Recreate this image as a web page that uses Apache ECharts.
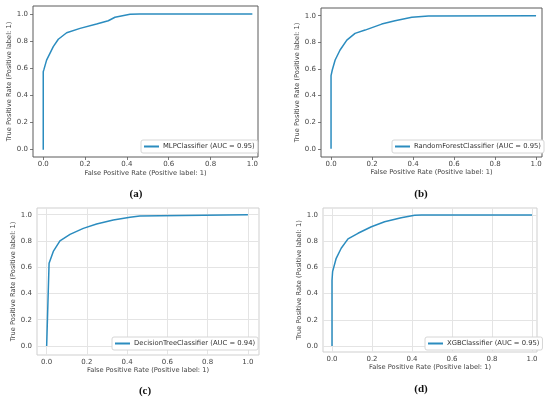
<!DOCTYPE html>
<html>
<head>
<meta charset="utf-8">
<script src="https://cdn.jsdelivr.net/npm/echarts@6/dist/echarts.min.js"></script>
<style>html,body{margin:0;padding:0;background:#fff}#c{width:550px;height:397px}</style>
</head>
<body>
<div id="c"></div>
<script>
// ---- data ----
const tickValues = [0, 0.2, 0.4, 0.6, 0.8, 1.0];
const names = ['MLPClassifier (AUC = 0.95)', 'RandomForestClassifier (AUC = 0.95)', 'DecisionTreeClassifier (AUC = 0.94)', 'XGBClassifier (AUC = 0.95)'];
const captions = ['(a)', '(b)', '(c)', '(d)'];
const fprA = [0, 0, 0.003, 0.016, 0.048, 0.072, 0.112, 0.176, 0.255, 0.311, 0.343, 0.415, 0.46, 1];
const tprA = [0, 0.575, 0.59, 0.66, 0.76, 0.814, 0.862, 0.894, 0.926, 0.95, 0.976, 0.998, 1, 1];
const fprB = [0, 0, 0.006, 0.02, 0.044, 0.077, 0.117, 0.166, 0.247, 0.312, 0.394, 0.475, 1];
const tprB = [0, 0.55, 0.592, 0.667, 0.742, 0.817, 0.867, 0.892, 0.937, 0.962, 0.988, 0.998, 1];
const fprC = [0, 0.012, 0.033, 0.066, 0.116, 0.182, 0.248, 0.331, 0.414, 0.463, 0.562, 1];
const tprC = [0, 0.63, 0.72, 0.80, 0.85, 0.896, 0.929, 0.96, 0.98, 0.99, 0.992, 1];
const fprD = [0, 0, 0.003, 0.021, 0.046, 0.08, 0.13, 0.197, 0.263, 0.346, 0.413, 0.447, 1];
const tprD = [0, 0.5, 0.567, 0.669, 0.746, 0.817, 0.86, 0.91, 0.948, 0.979, 0.997, 1, 1];
const xLabel = 'False Positive Rate (Positive label: 1)';
const yLabel = 'True Positive Rate (Positive label: 1)';

const fprs = [fprA, fprB, fprC, fprD];
const tprs = [tprA, tprB, tprC, tprD];

// ---- layout ----
const FONT = 'DejaVu Sans';
const LINE = '#2b8cbf';
const panels = [
  {L: 33, R: 258, T: 6, B: 157, xr: [-0.049, 1.027], yr: [-0.054, 1.059], grid: false, xGap: 13, yGap: 13.5, legend: {left: 141, top: 140}, cap: [136, 194]},
  {L: 321, R: 542, T: 8, B: 157, xr: [-0.049, 1.029], yr: [-0.062, 1.058], grid: false, xGap: 12, yGap: 14, legend: {left: 392, top: 140}, cap: [421, 194]},
  {L: 37, R: 259, T: 208, B: 355, xr: [-0.048, 1.055], yr: [-0.069, 1.051], grid: true, xGap: 11, yGap: 12.5, legend: {left: 112, top: 337}, cap: [145, 391]},
  {L: 323, R: 537, T: 208, B: 352, xr: [-0.045, 1.025], yr: [-0.046, 1.053], grid: true, xGap: 12, yGap: 16, legend: {left: 425, top: 337}, cap: [421, 389]}
];

const grids = [], xAxes = [], yAxes = [], series = [], legends = [], graphics = [];
panels.forEach((p, i) => {
  grids.push({left: p.L, top: p.T, width: p.R - p.L, height: p.B - p.T, show: true,
    borderColor: p.grid ? '#cfcfcf' : '#5a5a5a', borderWidth: 1, backgroundColor: '#fff', containLabel: false});
  const common = (range, gap, name, isX) => ({
    type: 'value', gridIndex: i, min: range[0], max: range[1],
    position: isX ? 'bottom' : 'left',
    name: name, nameLocation: 'middle', nameGap: gap,
    nameTextStyle: {fontFamily: FONT, fontSize: 6.7, color: '#444'},
    axisLine: {show: false, onZero: false},
    axisTick: {show: !p.grid, length: 3, inside: false, lineStyle: {color: '#5a5a5a', width: 0.8}, customValues: tickValues},
    axisLabel: {show: true, customValues: tickValues, fontFamily: FONT, fontSize: 7, color: '#444', margin: isX ? 4 : 5,
      formatter: v => v.toFixed(1)},
    splitLine: {show: p.grid, lineStyle: {color: '#e4e4e4', width: 1}}
  });
  xAxes.push(common(p.xr, p.xGap, xLabel, true));
  yAxes.push(common(p.yr, p.yGap, yLabel, false));
  series.push({
    type: 'line', name: names[i], xAxisIndex: i, yAxisIndex: i,
    data: fprs[i].map((x, k) => [x, tprs[i][k]]),
    showSymbol: false, symbol: 'none', smooth: false,
    lineStyle: {color: LINE, width: 1.5}, itemStyle: {color: LINE}, z: 3
  });
  legends.push({
    data: [names[i]], left: p.legend.left, top: p.legend.top, orient: 'horizontal',
    icon: 'rect', itemWidth: 15, itemHeight: 2, itemGap: 4,
    padding: [3, 3, 3, 3], borderColor: '#d6d6d6', borderWidth: 1, borderRadius: 2, backgroundColor: '#fff',
    textStyle: {fontFamily: FONT, fontSize: 6.8, color: '#333', padding: [0, 0, 0, -1]},
    selectedMode: false
  });
  graphics.push({type: 'text', x: p.cap[0], y: p.cap[1],
    style: {text: captions[i], font: 'bold 11px "Liberation Serif"', fill: '#111', textAlign: 'center', textVerticalAlign: 'middle'}});
});

const chart = echarts.init(document.getElementById('c'), null, {renderer: 'canvas'});
chart.setOption({
  animation: false,
  backgroundColor: '#fff',
  grid: grids, xAxis: xAxes, yAxis: yAxes, series: series, legend: legends, graphic: graphics
});
</script>
</body>
</html>
